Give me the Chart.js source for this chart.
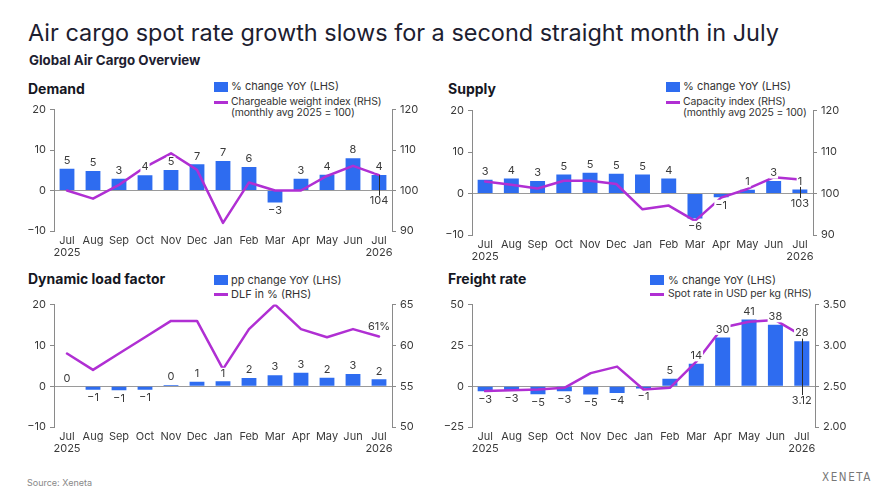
<!DOCTYPE html>
<html><head><meta charset="utf-8">
<script src="https://cdn.jsdelivr.net/npm/chart.js@4.4.1/dist/chart.umd.min.js"></script>
<style>
html,body{margin:0;padding:0;background:#fff;width:896px;height:504px;overflow:hidden;font-family:Inter,'Open Sans',sans-serif;}
.a{position:absolute;white-space:nowrap;}
#title{left:28px;top:18px;font-size:22px;line-height:30px;color:#1d2030;font-weight:400;}
#sub{left:29px;top:52px;font-size:13.3px;line-height:16px;color:#1d2030;font-weight:700;}
.pt{font-size:14px;line-height:18px;font-weight:700;color:#15171f;}
.lg{font-size:11px;line-height:12px;color:#333;}
.lg2{font-size:10.4px;line-height:12px;color:#333;letter-spacing:-0.1px;}
.sq{position:absolute;width:14px;height:10px;background:#2e6cf0;}
.ln{position:absolute;width:14px;height:2.5px;background:#b02fd3;}
.cv{position:absolute;}
#src{left:27px;top:477px;font-size:9px;line-height:12px;color:#888;}
#logo{left:822px;top:470px;font-size:11.5px;line-height:14px;color:#777;letter-spacing:1.6px;font-family:'Liberation Sans Narrow','DejaVu Sans Condensed',sans-serif;}
</style></head>
<body>
<div class="a" id="title">Air cargo spot rate growth slows for a second straight month in July</div>
<div class="a" id="sub">Global Air Cargo Overview</div>

<div class="a pt" style="left:28px;top:80px;">Demand</div>
<div class="a pt" style="left:448px;top:80px;">Supply</div>
<div class="a pt" style="left:28px;top:270px;">Dynamic load factor</div>
<div class="a pt" style="left:448px;top:270px;">Freight rate</div>

<!-- Demand legend -->
<div class="sq" style="left:214px;top:82px;"></div>
<div class="a lg" style="left:231px;top:80px;">% change YoY (LHS)</div>
<div class="ln" style="left:214px;top:101px;"></div>
<div class="a lg2" style="left:231px;top:96px;">Chargeable weight index (RHS)</div>
<div class="a lg2" style="left:231px;top:107px;">(monthly avg 2025 = 100)</div>

<!-- Supply legend -->
<div class="sq" style="left:666px;top:82px;"></div>
<div class="a lg" style="left:683px;top:80px;">% change YoY (LHS)</div>
<div class="ln" style="left:666px;top:101px;"></div>
<div class="a lg2" style="left:683px;top:96px;">Capacity index (RHS)</div>
<div class="a lg2" style="left:683px;top:107px;">(monthly avg 2025 = 100)</div>

<!-- DLF legend -->
<div class="sq" style="left:214px;top:275px;"></div>
<div class="a lg" style="left:231px;top:274px;">pp change YoY (LHS)</div>
<div class="ln" style="left:214px;top:293px;"></div>
<div class="a lg" style="left:231px;top:288px;">DLF in % (RHS)</div>

<!-- Freight legend -->
<div class="sq" style="left:650px;top:275px;"></div>
<div class="a lg" style="left:668px;top:274px;">% change YoY (LHS)</div>
<div class="ln" style="left:650px;top:293px;"></div>
<div class="a lg2" style="left:668px;top:288px;">Spot rate in USD per kg (RHS)</div>

<canvas id="c1" class="cv"></canvas>
<canvas id="c2" class="cv"></canvas>
<canvas id="c3" class="cv"></canvas>
<canvas id="c4" class="cv"></canvas>

<div class="a" id="src">Source: Xeneta</div>
<div class="a" id="logo">XENETA</div>

<script>
// ---------------- DATA ----------------
const months = ['Jul','Aug','Sep','Oct','Nov','Dec','Jan','Feb','Mar','Apr','May','Jun','Jul'];
const startYear = '2025';
const endYear = '2026';

const demandYoY   = [5.4, 4.8, 2.9, 3.8, 5.1, 6.5, 7.3, 5.8, -2.95, 2.9, 3.9, 8.0, 3.85];
const demandIndex = [100, 98.0, 101.4, 105.8, 109.2, 105.1, 92.0, 102.0, 100, 100, 103.6, 106.1, 103.8];

const supplyYoY   = [3.3, 3.6, 3.0, 4.6, 5.0, 4.8, 4.6, 3.6, -6.0, -0.9, 0.9, 3.0, 1.0];
const supplyIndex = [102.9, 102.1, 101.2, 103.1, 103.1, 102.3, 96.2, 97.1, 93.4, 99.0, 101.1, 103.9, 103.4];

const dlfYoY = [0, -0.9, -1.0, -0.9, 0.3, 1.1, 1.2, 2.0, 2.7, 3.3, 2.1, 3.0, 1.7];
const dlfPct = [59, 57, 59, 61, 63, 63, 57.1, 62, 65, 62, 61, 62, 61.1];

const freightYoY = [-3.1, -2.9, -4.9, -3.1, -5.1, -4.1, -1.4, 4.5, 13.7, 29.9, 40.8, 37.6, 27.6];
const spotRate   = [2.44, 2.45, 2.46, 2.48, 2.66, 2.74, 2.46, 2.48, 2.80, 3.22, 3.29, 3.31, 3.12];

const pctTicks  = [-10, 0, 10, 20];
const idxTicks  = [90, 100, 110, 120];
const dlfTicks  = [50, 55, 60, 65];
const frTicks   = [-25, 0, 25, 50];
const rateTicks = [2.00, 2.50, 3.00, 3.50];

// ---------------- STYLE ----------------
const BAR = '#2e6cf0', LINE = '#b02fd3', AXIS = '#8a8a8a', TXT = '#3a3a3a';
const FONT = 'Inter';

const tickLabels = months.map((m, i) => i === 0 ? [m, startYear] : (i === months.length - 1 ? [m, endYear] : m));

// fit title width
(function(){
  const t = document.getElementById('title');
  const c = document.createElement('canvas').getContext('2d');
  c.font = '400 22px ' + FONT;
  const w = c.measureText(t.textContent).width;
  t.style.fontSize = (22 * 751 / w).toFixed(2) + 'px';
})();

function minus(s){ return s.replace('-', '\u2212'); }
function fmtInt(v){ return minus(String(Math.round(v))); }

function drawLabel(ctx, t, x, y){
  const w = ctx.measureText(t).width;
  ctx.fillStyle = '#fff';
  ctx.fillRect(x - w/2 - 1, y - 5.5, w + 2, 11);
  ctx.fillStyle = TXT;
  ctx.textBaseline = 'middle';
  ctx.fillText(t, x, y);
}

const labelPlugin = {
  id: 'vlabels',
  afterDatasetsDraw(chart, args, o){
    const ctx = chart.ctx;
    ctx.save();
    ctx.font = '11px ' + FONT;
    ctx.textAlign = 'center';
    const lm = chart.getDatasetMeta(1);
    const n = lm.data.length - 1;
    const last = lm.data[n];
    const lv = chart.data.datasets[1].data[n];
    const ly = last.y + o.dy;
    if (o.leader){
      ctx.strokeStyle = '#2a2a2a'; ctx.lineWidth = 1;
      const xx = Math.round(last.x) + 0.5;
      ctx.beginPath(); ctx.moveTo(xx, last.y); ctx.lineTo(xx, ly - 5); ctx.stroke();
    }
    const bm = chart.getDatasetMeta(0);
    bm.data.forEach((el, i) => {
      const v = chart.data.datasets[0].data[i];
      const y = v >= 0 ? el.y - 8 : el.y + 8;
      drawLabel(ctx, fmtInt(v), el.x, y);
    });
    drawLabel(ctx, o.fmt(lv), last.x, ly);
    ctx.restore();
  }
};

function makePanel(id, box, bars, line, yT, y1T, y1fmt, lbl){
  const cv = document.getElementById(id);
  const W = box.r - box.l + 80, H = box.b - box.t + 10 + 32;
  cv.style.left = (box.l - 40) + 'px';
  cv.style.top = (box.t - 10) + 'px';
  cv.width = W; cv.height = H;
  cv.style.width = W + 'px'; cv.style.height = H + 'px';
  const tf = {size: 11, family: FONT};
  new Chart(cv, {
    data: {
      labels: tickLabels,
      datasets: [
        {type: 'bar', data: bars, backgroundColor: BAR, yAxisID: 'y', order: 1,
         barPercentage: 0.57, categoryPercentage: 1.0},
        {type: 'line', data: line, borderColor: LINE, borderWidth: 2.5, pointRadius: 0,
         tension: 0, yAxisID: 'y1', order: 0, borderJoinStyle: 'round', borderCapStyle: 'round'}
      ]
    },
    options: {
      responsive: false, animation: false, devicePixelRatio: window.devicePixelRatio || 1,
      layout: {padding: {top: 10, left: 0, right: 0, bottom: 0}},
      plugins: {legend: {display: false}, tooltip: {enabled: false}, vlabels: lbl},
      scales: {
        x: {offset: true, grid: {display: false, drawTicks: false}, border: {display: false},
            ticks: {font: {size: 11, family: FONT, lineHeight: 1.05}, color: TXT, padding: 4, maxRotation: 0, autoSkip: false},
            afterFit(s){ s.height = 32; }},
        y: {position: 'left', min: yT[0], max: yT[yT.length-1],
            afterBuildTicks(s){ s.ticks = yT.map(v => ({value: v})); },
            ticks: {font: tf, color: TXT, padding: 4, callback: v => minus(String(v))},
            grid: {color: c => (c.tick && c.tick.value === 0) ? '#9a9a9a' : 'rgba(0,0,0,0)',
                   tickColor: AXIS, tickLength: 4, lineWidth: 1},
            border: {color: AXIS, width: 1},
            afterFit(s){ s.width = 40; }},
        y1: {position: 'right', min: y1T[0], max: y1T[y1T.length-1],
            afterBuildTicks(s){ s.ticks = y1T.map(v => ({value: v})); },
            ticks: {font: tf, color: TXT, padding: 4, callback: y1fmt},
            grid: {drawOnChartArea: false, tickColor: AXIS, tickLength: 4, color: AXIS},
            border: {color: AXIS, width: 1},
            afterFit(s){ s.width = 40; }}
      }
    },
    plugins: [labelPlugin]
  });
}

const intFmt = v => String(v);
makePanel('c1', {l: 54, r: 392, t: 109, b: 231}, demandYoY, demandIndex, pctTicks, idxTicks, intFmt,
  {dy: 26, leader: true, fmt: v => String(Math.round(v))});
makePanel('c2', {l: 472, r: 813, t: 110, b: 235}, supplyYoY, supplyIndex, pctTicks, idxTicks, intFmt,
  {dy: 24, leader: true, fmt: v => String(Math.round(v))});
makePanel('c3', {l: 54, r: 392, t: 304, b: 427}, dlfYoY, dlfPct, pctTicks, dlfTicks, intFmt,
  {dy: -10, leader: false, fmt: v => Math.round(v) + '%'});
makePanel('c4', {l: 472, r: 815, t: 304, b: 427}, freightYoY, spotRate, frTicks, rateTicks, v => Number(v).toFixed(2),
  {dy: 65, leader: true, fmt: v => v.toFixed(2)});
</script>
</body></html>
